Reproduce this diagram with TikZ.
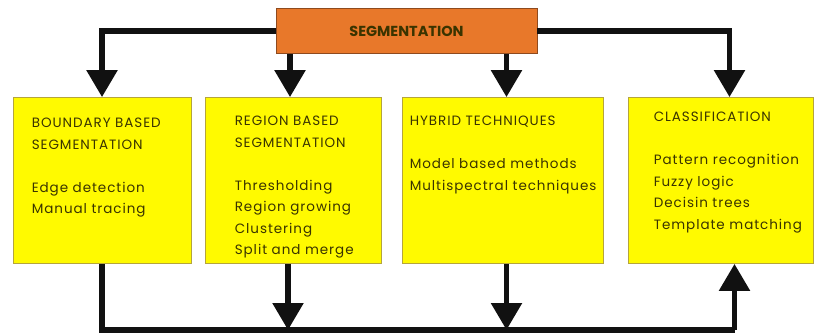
\documentclass[tikz,border=0pt]{standalone}
\usepackage{fontspec}
\setmainfont{Poppins}[LetterSpace=7]
\newfontfamily\titulo{Poppins}
\usepackage{xcolor}
\usepackage{tikz}
\usetikzlibrary{arrows.meta}

\definecolor{amarillo}{HTML}{FFFA00}
\definecolor{bordeam}{HTML}{B5A53C}
\definecolor{naranja}{HTML}{E8782A}
\definecolor{bordena}{HTML}{8E4A1E}
\definecolor{letra}{HTML}{3A3400}
\definecolor{negro}{HTML}{111111}

\tikzset{
  caja/.style={draw=bordeam, line width=0.8pt, fill=amarillo,
    minimum width=#1, minimum height=166pt, inner sep=0pt},
  texto/.style={anchor=north west, align=left, inner sep=0pt, text=letra,
    font=\fontsize{13.5}{21.5}\selectfont},
  linea/.style={draw=negro, line width=5.5pt, line join=miter},
  flecha/.style={linea, -{Triangle[width=30pt,length=27pt]}}
}

\begin{document}
\begin{tikzpicture}[x=1pt,y=-1pt]
    \useasboundingbox (0,0) rectangle (819,334);

    % Dibujar la caja de arriba
    \node[draw=bordena, line width=0.8pt, fill=naranja, minimum width=261pt,
      minimum height=45pt, inner sep=0pt, text=letra,
      font=\titulo\fontsize{14.5}{16}\bfseries\selectfont] (seg) at (406.5,31) {SEGMENTATION};

    % Dibujar las cuatro cajas
    \node[caja=178pt] (b1) at (102,180.5) {};
    \node[caja=176pt] (b2) at (293,180.5) {};
    \node[caja=201pt] (b3) at (502.5,180.5) {};
    \node[caja=185pt] (b4) at (720.5,180.5) {};

    % Textos de las cajas
    \node[texto] (t1) at ([shift={(19,21)}]b1.north west)
      {BOUNDARY BASED\\SEGMENTATION\\[21.5pt]Edge detection\\Manual tracing};
    \node[texto] (t2) at ([shift={(30,19)}]b2.north west)
      {REGION BASED\\SEGMENTATION\\[21.5pt]Thresholding\\Region growing\\Clustering\\Split and merge};
    \node[texto] (t3) at ([shift={(8,19)}]b3.north west)
      {HYBRID TECHNIQUES\\[21.5pt]Model based methods\\Multispectral techniques};
    \node[texto] (t4) at ([shift={(26,15)}]b4.north west)
      {CLASSIFICATION\\[21.5pt]Pattern recognition\\Fuzzy logic\\Decisin trees\\Template matching};

    % Flechas de arriba
    \draw[flecha] (seg.west) -| (b1.north);
    \draw[flecha] (seg.east) -| ([xshift=9pt]b4.north);
    \draw[flecha] ([xshift=-3pt]b2.north |- seg.south) -- ([xshift=-3pt]b2.north);
    \draw[flecha] ([xshift=4pt]b3.north |- seg.south) -- ([xshift=4pt]b3.north);

    % Flechas de abajo
    \coordinate (base) at (0,330);
    \draw[linea] (b1.south) -- (b1.south |- base) -- ([xshift=14pt]b4.south |- base);
    \draw[flecha] ([xshift=-5pt]b2.south) -- ([xshift=-5pt]b2.south |- base);
    \draw[flecha] ([xshift=4pt]b3.south) -- ([xshift=4pt]b3.south |- base);
    \draw[flecha] ([xshift=14pt]b4.south |- base) -- ([xshift=14pt]b4.south);

\end{tikzpicture}
\end{document}
